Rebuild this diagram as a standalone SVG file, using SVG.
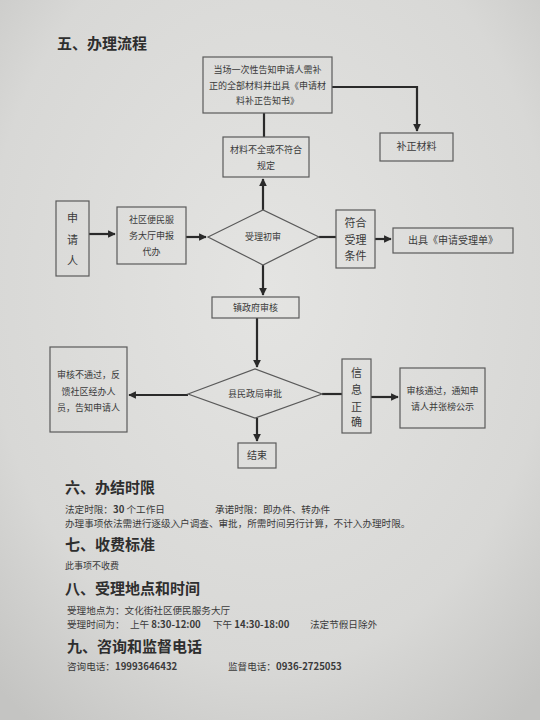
<svg xmlns="http://www.w3.org/2000/svg" width="540" height="720" viewBox="0 0 540 720">
<defs>
<radialGradient id="bg" cx="50%" cy="40%" r="75%">
<stop offset="0" stop-color="#e4e4e2"/>
<stop offset="0.7" stop-color="#d8d8d6"/>
<stop offset="1" stop-color="#c4c4c2"/>
</radialGradient>
<marker id="ah" viewBox="0 0 10 10" refX="9" refY="5" markerWidth="3.5" markerHeight="3.5" orient="auto">
<path d="M0,0 L10,5 L0,10 z" fill="#2a2a2a"/>
</marker>
</defs>
<style>
.box{fill:none;stroke:#5a5a5a;stroke-width:1.2}
.dia{fill:none;stroke:#5a5a5a;stroke-width:1.2}
.c{fill:none;stroke:#2a2a2a;stroke-width:2.2}
.ca{fill:none;stroke:#2a2a2a;stroke-width:2.2;marker-end:url(#ah)}
text{font-family:"Noto Sans CJK SC","Noto Sans",sans-serif;fill:#3a3a3a}
.t{font-size:9px;text-anchor:middle}
.tv{font-size:11px;text-anchor:middle}
.h{font-size:15px;font-weight:bold;fill:#2e2e2e}
.b{font-size:9.6px}
</style>
<rect width="540" height="720" fill="url(#bg)"/>
<text class="h" x="57" y="49">五、办理流程</text>

<g id="connectors">
<path class="ca" d="M332,87 H417 V131"/>
<path class="c" d="M264,137 V113"/>
<path class="ca" d="M263,210 V179"/>
<path class="ca" d="M89,234 H115"/>
<path class="ca" d="M186,237 H206"/>
<path class="c" d="M319,237 H336"/>
<path class="ca" d="M375,239 H391"/>
<path class="ca" d="M263,265 V295"/>
<path class="ca" d="M257,318 V367"/>
<path class="ca" d="M188,395 H129"/>
<path class="c" d="M322,394 H342"/>
<path class="ca" d="M371,397 H398"/>
<path class="ca" d="M257,418 V441"/>
</g>

<g id="notify">
<rect class="box" x="203" y="57" width="129" height="56"/>
<text class="t" x="267.5" y="73">当场一次性告知申请人需补</text>
<text class="t" x="267.5" y="89">正的全部材料并出具《申请材</text>
<text class="t" x="267.5" y="104">料补正告知书》</text>
</g>
<g id="supplement">
<rect class="box" x="380" y="133" width="73" height="28"/>
<text class="t" x="416.5" y="150" style="font-size:10px">补正材料</text>
</g>
<g id="incomplete">
<rect class="box" x="223" y="137" width="86" height="40"/>
<text class="t" x="266" y="153">材料不全或不符合</text>
<text class="t" x="266" y="169">规定</text>
</g>
<g id="applicant">
<rect class="box" x="56" y="201" width="33" height="75"/>
<text class="tv" x="72.5" y="222">申</text>
<text class="tv" x="72.5" y="244">请</text>
<text class="tv" x="72.5" y="265">人</text>
</g>
<g id="hall">
<rect class="box" x="117" y="207" width="69" height="57"/>
<text class="t" x="151.5" y="223">社区便民服</text>
<text class="t" x="151.5" y="239">务大厅申报</text>
<text class="t" x="151.5" y="255">代办</text>
</g>
<g id="initial">
<polygon class="dia" points="208,237 263,210 319,237 263,265"/>
<text class="t" x="263" y="240">受理初审</text>
</g>
<g id="meets">
<rect class="box" x="336" y="210" width="39" height="58"/>
<text class="tv" x="355.5" y="227">符合</text>
<text class="tv" x="355.5" y="244">受理</text>
<text class="tv" x="355.5" y="260">条件</text>
</g>
<g id="receipt">
<rect class="box" x="393" y="228" width="120" height="25"/>
<text class="t" x="453" y="244" style="font-size:10px">出具《申请受理单》</text>
</g>
<g id="town">
<rect class="box" x="212" y="297" width="87" height="21"/>
<text class="t" x="255.5" y="311">镇政府审核</text>
</g>
<g id="county">
<polygon class="dia" points="188,394 255,369 322,394 255,418"/>
<text class="t" x="255" y="397">县民政局审批</text>
</g>
<g id="reject">
<rect class="box" x="50" y="347" width="77" height="85"/>
<text class="t" x="88.5" y="378">审核不通过，反</text>
<text class="t" x="88.5" y="395">馈社区经办人</text>
<text class="t" x="88.5" y="411">员，告知申请人</text>
</g>
<g id="correct">
<rect class="box" x="342" y="359" width="29" height="74"/>
<text class="tv" x="356.5" y="377">信</text>
<text class="tv" x="356.5" y="394">息</text>
<text class="tv" x="356.5" y="411">正</text>
<text class="tv" x="356.5" y="426">确</text>
</g>
<g id="approved">
<rect class="box" x="400" y="368" width="85" height="60"/>
<text class="t" x="442.5" y="394">审核通过，通知申</text>
<text class="t" x="442.5" y="410">请人并张榜公示</text>
</g>
<g id="end">
<rect class="box" x="238" y="443" width="38" height="25"/>
<text class="t" x="257" y="459" style="font-size:10px">结束</text>
</g>

<text class="h" x="65" y="493">六、办结时限</text>
<text class="b" x="65" y="513">法定时限：<tspan font-weight="bold">30</tspan> 个工作日</text>
<text class="b" x="215" y="513">承诺时限：即办件、转办件</text>
<text class="b" x="65" y="527">办理事项依法需进行逐级入户调查、审批，所需时间另行计算，不计入办理时限。</text>
<text class="h" x="65" y="550">七、收费标准</text>
<text class="b" x="65" y="569" style="font-size:9px">此事项不收费</text>
<text class="h" x="65" y="594">八、受理地点和时间</text>
<text class="b" x="67" y="614">受理地点为：文化街社区便民服务大厅</text>
<text class="b" x="67" y="628">受理时间为：</text>
<text class="b" x="130" y="628">上午 <tspan font-weight="bold">8:30-12:00</tspan></text>
<text class="b" x="213" y="628">下午  <tspan font-weight="bold">14:30-18:00</tspan></text>
<text class="b" x="310" y="628">法定节假日除外</text>
<text class="h" x="67" y="652">九、咨询和监督电话</text>
<text class="b" x="67" y="670">咨询电话：<tspan font-weight="bold">19993646432</tspan></text>
<text class="b" x="228" y="670">监督电话：<tspan font-weight="bold">0936-2725053</tspan></text>
</svg>
